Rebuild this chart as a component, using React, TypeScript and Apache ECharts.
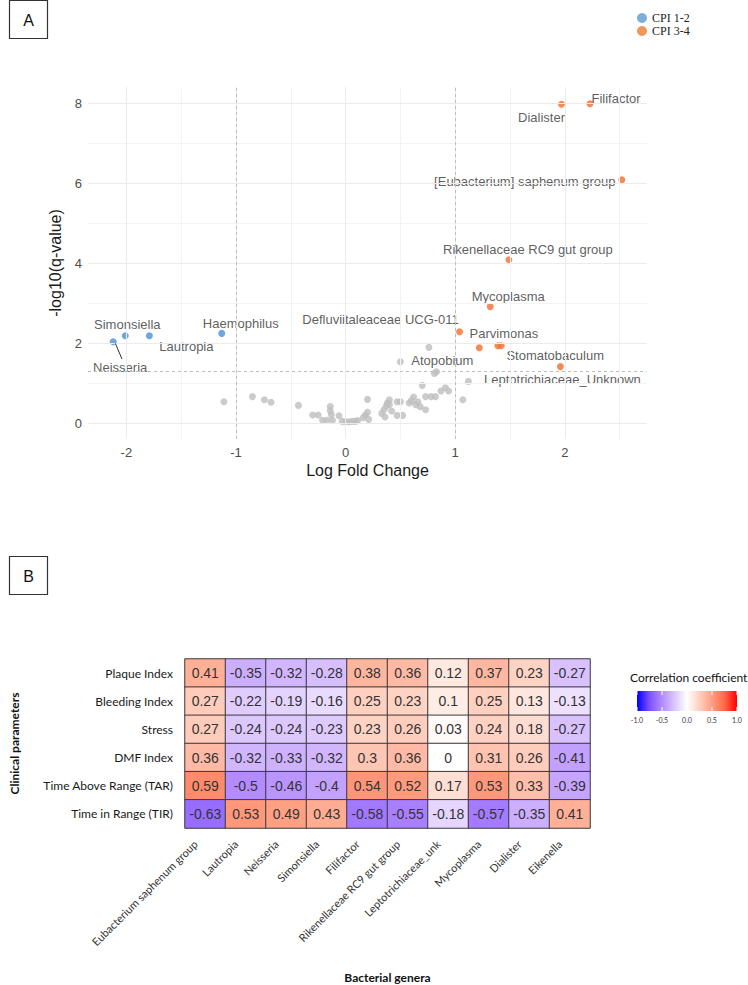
import React, { useEffect, useRef } from "react";
import * as echarts from "echarts";

// ---- Panel A: volcano plot (log fold change vs -log10 q) ----
const cpi12Names = ["Neisseria", "Simonsiella", "Lautropia", "Haemophilus"];
const cpi12LogFC = [-2.12, -2.01, -1.79, -1.13];
const cpi12NegLogQ = [2.03, 2.18, 2.18, 2.24];

const cpi34Names = [
  "Filifactor",
  "Dialister",
  "[Eubacterium] saphenum group",
  "Rikenellaceae RC9 gut group",
  "Mycoplasma",
  "Defluviitaleaceae UCG-011",
  "Atopobium",
  "Parvimonas",
  "Stomatobaculum",
  "Leptotrichiaceae_Unknown",
];
const cpi34LogFC = [2.23, 1.97, 2.52, 1.49, 1.32, 1.04, 1.22, 1.39, 1.42, 1.96];
const cpi34NegLogQ = [7.98, 7.97, 6.08, 4.08, 2.91, 2.28, 1.88, 1.93, 1.93, 1.41];

// taxa that are not differentially abundant
const nsLogFC = [
  -1.11, -0.85, -0.74, -0.68, -0.43, -0.3, -0.25, -0.21, -0.17, -0.12, -0.14, -0.14, -0.13, -0.06,
  -0.03, 0.0, 0.03, 0.06, 0.09, 0.11, 0.16, 0.18, 0.2, 0.21, 0.2, 0.33, 0.35, 0.37, 0.38, 0.4, 0.36,
  0.42, 0.4, 0.47, 0.5, 0.47, 0.52, 0.5, 0.58, 0.6, 0.62, 0.64, 0.66, 0.68, 0.7, 0.73, 0.78, 0.82,
  0.73, 0.76, 0.81, 0.83, 0.87, 0.91, 0.94, 1.07, 1.12,
];
const nsNegLogQ = [
  0.53, 0.66, 0.58, 0.52, 0.44, 0.2, 0.2, 0.07, 0.07, 0.07, 0.41, 0.31, 0.21, 0.18, 0.04, 0.03, 0.03,
  0.04, 0.04, 0.06, 0.13, 0.2, 0.27, 0.09, 0.59, 0.24, 0.33, 0.42, 0.5, 0.58, 0.15, 0.3, 0.46, 0.53,
  0.53, 0.19, 0.19, 1.53, 0.5, 0.56, 0.65, 0.46, 0.53, 0.41, 0.94, 0.66, 0.66, 0.66, 0.33, 1.89,
  1.24, 1.28, 0.8, 0.88, 0.8, 0.58, 1.04,
];

const xMajor = [-2, -1, 0, 1, 2];
const xMinor = [-1.5, -0.5, 0.5, 1.5, 2.5];
const yMajor = [0, 2, 4, 6, 8];
const yMinor = [1, 3, 5, 7];
const fcCutoffs = [-1, 1];
const qCutoff = -Math.log10(0.05);

// ---- Panel B: correlation heatmap ----
const genera = [
  "Eubacterium saphenum group",
  "Lautropia",
  "Neisseria",
  "Simonsiella",
  "Filifactor",
  "Rikenellaceae RC9 gut group",
  "Leptotrichiaceae_unk",
  "Mycoplasma",
  "Dialister",
  "Eikenella",
];
const clinical = [
  "Plaque Index",
  "Bleeding Index",
  "Stress",
  "DMF Index",
  "Time Above Range (TAR)",
  "Time in Range (TIR)",
];
const plaqueIndex = [0.41, -0.35, -0.32, -0.28, 0.38, 0.36, 0.12, 0.37, 0.23, -0.27];
const bleedingIndex = [0.27, -0.22, -0.19, -0.16, 0.25, 0.23, 0.1, 0.25, 0.13, -0.13];
const stress = [0.27, -0.24, -0.24, -0.23, 0.23, 0.26, 0.03, 0.24, 0.18, -0.27];
const dmfIndex = [0.36, -0.32, -0.33, -0.32, 0.3, 0.36, 0, 0.31, 0.26, -0.41];
const timeAboveRange = [0.59, -0.5, -0.46, -0.4, 0.54, 0.52, 0.17, 0.53, 0.33, -0.39];
const timeInRange = [-0.63, 0.53, 0.49, 0.43, -0.58, -0.55, -0.18, -0.57, -0.35, 0.41];
const colorbarTicks = [-1, -0.5, 0, 0.5, 1];

// ---- styling ----
const SANS = "Liberation Sans, Arial, sans-serif";
const HUMANIST = "Lato, 'Open Sans', sans-serif";
// blue-white-red ramp (Lab-interpolated stops from -1 to 1)
const divergingRamp = [
  "#0000FF",
  "#7E51FF",
  "#B38BFF",
  "#DCC5FF",
  "#FFFFFF",
  "#FFCFBF",
  "#FF9E81",
  "#FF6846",
  "#FF0000",
];

const labelOffset: Record<string, [number, number]> = {
  Neisseria: [7, 26],
  Simonsiella: [2, -11],
  Lautropia: [37, 11],
  Haemophilus: [19, -10],
  Filifactor: [26, -5],
  Dialister: [-20, 13],
  "[Eubacterium] saphenum group": [-97, 2],
  "Rikenellaceae RC9 gut group": [19, -10],
  Mycoplasma: [18, -10],
  "Defluviitaleaceae UCG-011": [-79, -12],
  Atopobium: [-37, 13],
  Parvimonas: [6, -12],
  Stomatobaculum: [54, 10],
  Leptotrichiaceae_Unknown: [2, 13],
};

function labelledPoints(names: string[], xs: number[], ys: number[]) {
  return names.map((name, i) => ({
    name,
    value: [xs[i], ys[i]],
    label: {
      show: true,
      position: "inside",
      offset: labelOffset[name] || [0, -10],
      formatter: name,
      color: "#333333",
      fontSize: 13,
      fontFamily: SANS,
      textBorderWidth: 0,
      textBorderColor: "transparent",
    },
  }));
}

function buildOption() {
  const corrRows = [plaqueIndex, bleedingIndex, stress, dmfIndex, timeAboveRange, timeInRange];
  const heatData: number[][] = [];
  corrRows.forEach((row, r) => row.forEach((v, c) => heatData.push([c, r, v])));

  const cbLeft = 637;
  const cbTop = 691;
  const cbW = 100;
  const cbH = 20;
  const cbX = (v: number) => cbLeft + ((v + 1) / 2) * cbW;

  const graphic: any[] = [
    // panel tags
    { type: "rect", shape: { x: 9.5, y: 0.5, width: 38, height: 38 }, style: { fill: "#fff", stroke: "#333", lineWidth: 1.2 } },
    { type: "text", x: 28.5, y: 20, style: { text: "A", font: `16px ${SANS}`, fill: "#111", align: "center", verticalAlign: "middle" } },
    { type: "rect", shape: { x: 9.5, y: 556.5, width: 38, height: 38 }, style: { fill: "#fff", stroke: "#333", lineWidth: 1.2 } },
    { type: "text", x: 28.5, y: 576, style: { text: "B", font: `16px ${SANS}`, fill: "#111", align: "center", verticalAlign: "middle" } },
    // colour bar
    {
      type: "text",
      x: 630,
      y: 677,
      style: { text: "Correlation coefficient", font: `12px ${HUMANIST}`, fill: "#111", align: "left", verticalAlign: "middle" },
    },
    {
      type: "rect",
      shape: { x: cbLeft, y: cbTop, width: cbW, height: cbH },
      style: {
        fill: new echarts.graphic.LinearGradient(
          0,
          0,
          1,
          0,
          divergingRamp.map((color, i) => ({ offset: i / (divergingRamp.length - 1), color }))
        ),
      },
    },
    ...colorbarTicks.flatMap((t) => [
      { type: "line", shape: { x1: cbX(t), y1: cbTop, x2: cbX(t), y2: cbTop + 4 }, style: { stroke: "#fff", lineWidth: 1 } },
      { type: "line", shape: { x1: cbX(t), y1: cbTop + cbH - 4, x2: cbX(t), y2: cbTop + cbH }, style: { stroke: "#fff", lineWidth: 1 } },
      {
        type: "text",
        x: cbX(t),
        y: cbTop + cbH + 9,
        style: { text: t.toFixed(1), font: `7px ${HUMANIST}`, fill: "#333", align: "center", verticalAlign: "middle" },
      },
    ]),
  ];

  const gridLines = (vals: number[], axis: "xAxis" | "yAxis") => vals.map((v) => ({ [axis]: v }));

  return {
    animation: false,
    backgroundColor: "#ffffff",
    legend: {
      data: [
        { name: "CPI 1-2", itemStyle: { color: "#5B9BD5" } },
        { name: "CPI 3-4", itemStyle: { color: "#ED7D31" } },
      ],
      orient: "vertical",
      left: 637,
      top: 12,
      icon: "circle",
      itemWidth: 10,
      itemHeight: 10,
      itemGap: 1,
      padding: 0,
      selectedMode: false,
      textStyle: { fontFamily: "Liberation Serif, serif", fontSize: 12, color: "#222" },
    },
    grid: [
      { left: 88, top: 87, width: 559, height: 352 },
      { left: 176, top: 659, width: 414, height: 169 },
    ],
    xAxis: [
      {
        type: "value",
        gridIndex: 0,
        min: -2.35,
        max: 2.75,
        name: "Log Fold Change",
        nameLocation: "middle",
        nameGap: 23,
        nameTextStyle: { fontSize: 16, color: "#1a1a1a", fontFamily: SANS },
        axisLine: { show: false },
        axisTick: { show: false },
        splitLine: { show: false },
        axisLabel: { customValues: xMajor, fontSize: 13, color: "#4D4D4D", fontFamily: SANS, margin: 7 },
      },
      {
        type: "category",
        gridIndex: 1,
        data: genera,
        axisLine: { show: false },
        axisTick: { show: false },
        splitLine: { show: false },
        name: "Bacterial genera",
        nameLocation: "middle",
        nameGap: 143,
        nameTextStyle: { fontSize: 12, fontWeight: "bold", color: "#111", fontFamily: HUMANIST },
        axisLabel: {
          interval: 0,
          rotate: 45,
          margin: 4,
          padding: [0, 14, 0, 0],
          fontSize: 11,
          color: "#333",
          fontFamily: HUMANIST,
        },
      },
    ],
    yAxis: [
      {
        type: "value",
        gridIndex: 0,
        min: -0.4,
        max: 8.4,
        name: "-log10(q-value)",
        nameLocation: "middle",
        nameGap: 20,
        nameTextStyle: { fontSize: 16, color: "#1a1a1a", fontFamily: SANS },
        axisLine: { show: false },
        axisTick: { show: false },
        splitLine: { show: false },
        axisLabel: { customValues: yMajor, fontSize: 13, color: "#4D4D4D", fontFamily: SANS, margin: 6 },
      },
      {
        type: "category",
        gridIndex: 1,
        data: clinical,
        inverse: true,
        axisLine: { show: false },
        axisTick: { show: false },
        splitLine: { show: false },
        name: "Clinical parameters",
        nameLocation: "middle",
        nameGap: 165,
        nameTextStyle: { fontSize: 12, fontWeight: "bold", color: "#111", fontFamily: HUMANIST },
        axisLabel: { fontSize: 12, color: "#1a1a1a", fontFamily: HUMANIST, margin: 12 },
      },
    ],
    visualMap: {
      type: "continuous",
      show: false,
      min: -1,
      max: 1,
      seriesIndex: 6,
      inRange: { color: divergingRamp },
    },
    series: [
      {
        name: "minor grid",
        type: "scatter",
        xAxisIndex: 0,
        yAxisIndex: 0,
        data: [],
        z: 1,
        silent: true,
        markLine: {
          silent: true,
          symbol: "none",
          label: { show: false },
          lineStyle: { color: "#F3F3F3", width: 1, type: "solid" },
          data: [...gridLines(xMinor, "xAxis"), ...gridLines(yMinor, "yAxis")],
        },
      },
      {
        name: "major grid",
        type: "scatter",
        xAxisIndex: 0,
        yAxisIndex: 0,
        data: [],
        z: 1,
        silent: true,
        markLine: {
          silent: true,
          symbol: "none",
          label: { show: false },
          lineStyle: { color: "#EBEBEB", width: 1, type: "solid" },
          data: [...gridLines(xMajor, "xAxis"), ...gridLines(yMajor, "yAxis")],
        },
      },
      {
        name: "cut-offs",
        type: "scatter",
        xAxisIndex: 0,
        yAxisIndex: 0,
        data: [],
        z: 2,
        silent: true,
        markLine: {
          silent: true,
          symbol: "none",
          label: { show: false },
          lineStyle: { color: "#BDBDBD", width: 1, type: [3, 3] },
          data: [...gridLines(fcCutoffs, "xAxis"), { yAxis: qCutoff }],
        },
      },
      {
        name: "NS",
        type: "scatter",
        xAxisIndex: 0,
        yAxisIndex: 0,
        z: 3,
        symbolSize: 7,
        itemStyle: { color: "#BEBEBE" },
        data: nsLogFC.map((x, i) => [x, nsNegLogQ[i]]),
      },
      {
        name: "CPI 1-2",
        type: "scatter",
        xAxisIndex: 0,
        yAxisIndex: 0,
        z: 4,
        symbolSize: 7,
        itemStyle: { color: "#4A90DB" },
        data: labelledPoints(cpi12Names, cpi12LogFC, cpi12NegLogQ),
        markLine: {
          silent: true,
          symbol: "none",
          label: { show: false },
          lineStyle: { color: "#333", width: 1, type: "solid" },
          data: [[{ coord: [-2.1, 1.99] }, { coord: [-2.04, 1.6] }]],
        },
      },
      {
        name: "CPI 3-4",
        type: "scatter",
        xAxisIndex: 0,
        yAxisIndex: 0,
        z: 4,
        symbolSize: 7,
        itemStyle: { color: "#F36F2E" },
        data: labelledPoints(cpi34Names, cpi34LogFC, cpi34NegLogQ),
      },
      {
        name: "correlation",
        type: "heatmap",
        xAxisIndex: 1,
        yAxisIndex: 1,
        data: heatData,
        itemStyle: { borderColor: "#3a3a3a", borderWidth: 1 },
        label: {
          show: true,
          formatter: (p: any) => String(p.value[2]),
          fontSize: 14,
          color: "#333",
          fontFamily: SANS,
        },
        emphasis: { disabled: true },
      },
    ],
    graphic,
  };
}

export default function App() {
  const ref = useRef<HTMLDivElement>(null);
  useEffect(() => {
    if (!ref.current) return;
    const chart = echarts.init(ref.current, null, { renderer: "svg" });
    chart.setOption(buildOption() as any);
    return () => chart.dispose();
  }, []);
  return (
    <div
      ref={ref}
      style={{ position: "absolute", left: 0, top: 0, width: 748, height: 985, background: "#fff" }}
    />
  );
}
